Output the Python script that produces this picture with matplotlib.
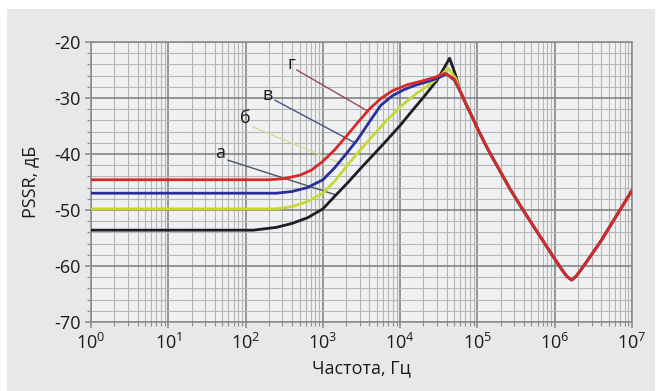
import numpy as np
import matplotlib
matplotlib.use("Agg")
from matplotlib import pyplot as plt
from matplotlib.patches import Rectangle
from matplotlib.ticker import LogLocator, MultipleLocator, NullFormatter

plt.rcParams["font.family"] = ["Open Sans", "DejaVu Sans"]
plt.rcParams["mathtext.fontset"] = "custom"
plt.rcParams["mathtext.rm"] = "Open Sans"
plt.rcParams["axes.unicode_minus"] = False

# common falling / rising tail shared by all four curves
tail_freq = [58900, 72400, 87100, 104700, 125900, 151400, 177800, 263000,
             389000, 645700, 955000, 1259000, 1445000, 1660000, 1905000,
             2512000, 3981000, 6310000, 1e7]
tail_db = [-28.6, -31.3, -33.6, -36.0, -38.2, -40.3, -42.0, -46.2,
           -50.0, -54.7, -58.3, -60.8, -61.9, -62.5, -61.8,
           -59.5, -55.5, -51.0, -46.5]

# а (black)
freq_a = [1, 126, 251, 398, 631, 1000, 1413, 2138, 3162, 4677, 6761,
          10000, 13490, 19950, 30200, 43650, 52500]
db_a = [-53.6, -53.6, -53.1, -52.4, -51.4, -49.8, -47.6, -45.0, -42.4, -39.9, -37.5,
        -34.9, -32.7, -29.9, -26.8, -22.9, -26.0]

# б (yellow)
freq_b = [1, 251, 398, 631, 1000, 1413, 2138, 2951, 4074, 6310,
          10000, 15850, 24550, 33110, 41690, 52500]
db_b = [-49.8, -49.8, -49.4, -48.5, -47.0, -44.9, -41.8, -39.5, -37.3, -34.4,
        -31.6, -29.3, -27.5, -26.0, -24.7, -26.5]

# в (blue)
freq_v = [1, 251, 398, 631, 1000, 1413, 1995, 2818, 3981, 5623, 7943,
          11220, 15850, 22390, 30200, 39810, 50100]
db_v = [-47.0, -47.0, -46.7, -46.0, -44.6, -42.5, -40.0, -37.4, -34.3, -31.3, -29.6,
        -28.5, -27.7, -27.1, -26.5, -25.7, -26.8]

# г (red)
freq_g = [1, 200, 316, 501, 708, 1000, 1413, 1995, 2818, 3981, 5623,
          7943, 12590, 19950, 28180, 38020, 50100]
db_g = [-44.6, -44.6, -44.4, -43.8, -42.9, -41.3, -39.3, -36.9, -34.4, -32.0, -30.1,
        -28.7, -27.6, -26.9, -26.3, -25.6, -26.6]

curves = [
    ("а", freq_a, db_a, "#1e1e22"),
    ("б", freq_b, db_b, "#c9d634"),
    ("в", freq_v, db_v, "#2b2f9c"),
    ("г", freq_g, db_g, "#d62a2a"),
]

# label text position, leader start and the frequency where the leader meets the curve
labels = {
    "а": ((47, -39.8), (59, -41.1), 1480, "#4e555c"),
    "б": ((98, -33.6), (125, -35.2), 2050, "#cfdc96"),
    "в": ((195, -29.5), (240, -30.4), 2600, "#4b507e"),
    "г": ((388, -23.9), (460, -25.0), 3800, "#9a4a5a"),
}

fig = plt.figure(figsize=(6.57, 3.91), dpi=100, facecolor="white")
fig.patches.append(Rectangle((7 / 657, 0), 648 / 657, 382 / 391,
                             transform=fig.transFigure, facecolor="#e7e8e9",
                             edgecolor="none", zorder=-10))
ax = fig.add_axes([91 / 657, 1 - 322 / 391, 541 / 657, 280 / 391])
ax.set_zorder(1)
ax.set_facecolor("#eff1f3")

ax.set_xscale("log")
ax.set_xlim(1, 1e7)
ax.set_ylim(-70, -20)
ax.xaxis.set_major_locator(LogLocator(base=10, numticks=10))
ax.xaxis.set_minor_locator(LogLocator(base=10, subs=np.arange(2, 10), numticks=20))
ax.xaxis.set_minor_formatter(NullFormatter())
ax.yaxis.set_major_locator(MultipleLocator(10))
ax.yaxis.set_minor_locator(MultipleLocator(2))

ax.grid(which="major", color="#7c7c7c", linewidth=1.1)
ax.grid(which="minor", color="#b4b6b8", linewidth=0.8)
ax.set_axisbelow(True)
ax.tick_params(which="both", direction="out", color="#8a8a8a", labelsize=13,
               labelcolor="#1a1a1a")
ax.tick_params(which="major", length=4, width=1.1)
ax.tick_params(which="minor", length=3, width=0.8)
for s in ax.spines.values():
    s.set_color("#8a8a8a")
    s.set_linewidth(1.1)

for name, f, db, color in curves:
    ax.plot(np.concatenate([f, tail_freq]), np.concatenate([db, tail_db]),
            color=color, linewidth=2.0, solid_capstyle="round",
            solid_joinstyle="round", zorder=3)

for name, f, db, color in curves:
    (tx, ty), (sx, sy), fend, lcolor = labels[name]
    full_f = np.concatenate([f, tail_freq])
    full_db = np.concatenate([db, tail_db])
    yend = np.interp(np.log10(fend), np.log10(full_f), full_db)
    ax.plot([sx, fend], [sy, yend], color=lcolor, linewidth=1.0, zorder=2)
    ax.text(tx, ty, name, fontsize=13, ha="center", va="center", color="#1a1a1a",
            zorder=4)

ax.set_xlabel("Частота, Гц", fontsize=13, color="#1a1a1a", labelpad=5)
ax.set_ylabel("PSSR, дБ", fontsize=13, color="#1a1a1a", labelpad=11)

fig.savefig("out.png", dpi=100, facecolor=fig.get_facecolor())
